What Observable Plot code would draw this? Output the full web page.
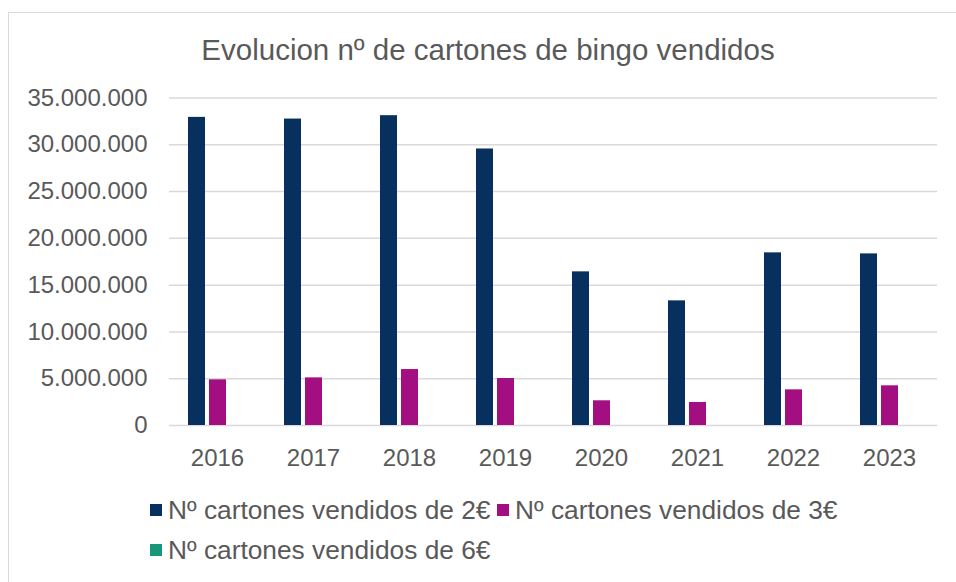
<!DOCTYPE html>
<html>
<head>
<meta charset="utf-8">
<script src="https://cdn.jsdelivr.net/npm/d3@7"></script>
<script src="https://cdn.jsdelivr.net/npm/@observablehq/plot@0.6"></script>
<style>
  html, body { margin: 0; padding: 0; background: #fff; width: 956px; height: 582px; overflow: hidden; }
  body { font-family: "Liberation Sans", Arial, sans-serif; color: #595959; position: relative; }
  #frame { position: absolute; left: 8px; top: 12px; width: 980px; height: 620px; border: 1.5px solid #d9d9d9; box-sizing: border-box; }
  #title { position: absolute; left: 0; width: 976px; top: 33px; text-align: center; font-size: 29.5px; color: #595959; white-space: nowrap; }
  #chart { position: absolute; left: 0; top: 70px; }
  .leg { position: absolute; font-size: 26.3px; color: #595959; white-space: nowrap; display: flex; align-items: center; }
  .sw { width: 12px; height: 12px; margin-right: 6px; display: inline-block; }
</style>
</head>
<body>
<div id="frame"></div>
<div id="title">Evolucion nº de cartones de bingo vendidos</div>
<div id="chart"></div>
<div id="legend"></div>
<script>
const years = ["2016", "2017", "2018", "2019", "2020", "2021", "2022", "2023"];
const seriesNames = ["Nº cartones vendidos de 2€", "Nº cartones vendidos de 3€", "Nº cartones vendidos de 6€"];
const colors = ["#07305f", "#a30e80", "#17977a"];
const v2 = [32930000, 32750000, 33110000, 29550000, 16420000, 13320000, 18450000, 18340000];
const v3 = [4880000, 5090000, 5980000, 5020000, 2640000, 2460000, 3810000, 4240000];
const v6 = [0, 0, 0, 0, 0, 0, 0, 0];
const yTicks = [0, 5000000, 10000000, 15000000, 20000000, 25000000, 30000000, 35000000];

const allValues = [v2, v3, v6];
const data = [];
years.forEach((y, i) => {
  seriesNames.forEach((s, j) => data.push({year: y, series: s, value: allValues[j][i]}));
});

const fmt = d => d3.format(",")(d).replace(/,/g, ".");

const plot = Plot.plot({
  width: 956,
  height: 410,
  marginTop: 27.5,
  marginBottom: 55,
  marginLeft: 167,
  marginRight: 17,
  style: {fontFamily: "'Liberation Sans', Arial, sans-serif", fontSize: "24px", color: "#595959", background: "transparent", overflow: "visible"},
  fx: {domain: years, paddingInner: 0, paddingOuter: 0, label: null, tickSize: 0, tickPadding: 23},
  x: {domain: seriesNames, axis: null, paddingInner: 0.2, paddingOuter: 0.865},
  y: {domain: [0, 35000000], ticks: yTicks, tickFormat: fmt, label: null, tickSize: 0, tickPadding: 22},
  color: {domain: seriesNames, range: colors},
  marks: [
    Plot.ruleY(yTicks, {stroke: "#d9d9d9", strokeWidth: 1.5}),
    Plot.barY(data, {fx: "year", x: "series", y: "value", fill: "series"})
  ]
});
document.getElementById("chart").appendChild(plot);

// legend
const legend = document.getElementById("legend");
const legPos = [[150, 510], [497, 510], [150, 550]];
seriesNames.forEach((s, i) => {
  const d = document.createElement("div");
  d.className = "leg";
  d.style.left = legPos[i][0] + "px";
  d.style.top = (legPos[i][1] - 15) + "px";
  d.style.height = "30px";
  const sw = document.createElement("span");
  sw.className = "sw";
  sw.style.background = colors[i];
  d.appendChild(sw);
  d.appendChild(document.createTextNode(s));
  legend.appendChild(d);
});
</script>
</body>
</html>
